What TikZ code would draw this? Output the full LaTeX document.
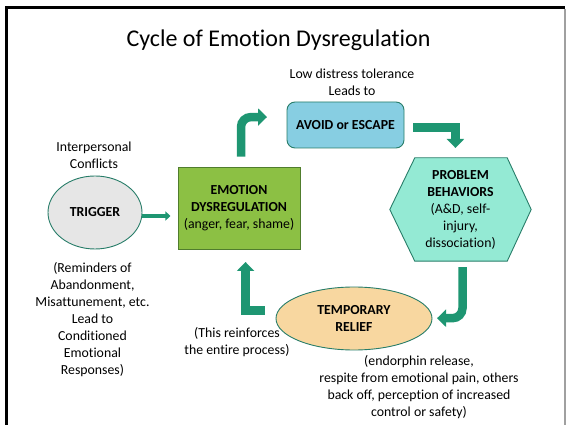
\documentclass[tikz,border=0pt]{standalone}
\usepackage{fontspec}
\setmainfont{Carlito}[RawFeature={-liga}]
\usetikzlibrary{arrows.meta,shapes.geometric,positioning}

\definecolor{arrowteal}{RGB}{30,150,114}
\definecolor{edgeteal}{RGB}{40,125,105}
\definecolor{avoidblue}{RGB}{135,206,226}
\definecolor{dysgreen}{RGB}{140,192,68}
\definecolor{dysedge}{RGB}{80,125,45}
\definecolor{hexaqua}{RGB}{148,234,212}
\definecolor{triggergray}{RGB}{230,230,230}
\definecolor{reliefwheat}{RGB}{248,215,160}
\definecolor{frameshadow}{RGB}{160,160,160}

\begin{document}
\begin{tikzpicture}[x=1pt,y=-1pt,
    every node/.style={font=\fontsize{13.8}{17}\selectfont,align=center},
    note/.style={inner sep=0pt},
    block arrow/.style={draw=arrowteal,line width=8.5pt,-{Triangle[width=17pt,length=9pt]}},
    small arrow/.style={draw=arrowteal,line width=3.5pt,-{Triangle[width=9pt,length=5pt]}},
    main node/.style={draw=edgeteal,line width=0.9pt,inner sep=0pt}]

    \useasboundingbox (0,0) rectangle (566,425);

    % slide frame
    \draw[line width=3.3pt] (6.2,425) -- (6.2,7.7) -- (565,7.7);
    \draw[frameshadow,line width=1.5pt] (565.2,9.3) -- (565.2,425);

    \node (title) at (278.5,40) {\fontsize{24}{29}\selectfont Cycle of Emotion Dysregulation};

    % the cycle
    \node[main node,fill=triggergray,ellipse,minimum width=94pt,minimum height=73pt] (trigger) at (95,212.5) {\textbf{TRIGGER}};
    \node[main node,draw=dysedge,fill=dysgreen,minimum width=122pt,minimum height=82pt] (dysreg) at (239,208)
        {\textbf{EMOTION}\\\textbf{DYSREGULATION}\\(anger, fear, shame)};
    \node[main node,fill=avoidblue,rounded corners=8pt,minimum width=117pt,minimum height=46pt] (avoid) at (345.5,125) {\textbf{AVOID or ESCAPE}};
    \node[inner sep=0pt,minimum width=141pt,minimum height=103pt] (behav) at (460.5,209.5) {};
    \draw[main node,fill=hexaqua] (behav.west) -- ([xshift=25pt]behav.north west) -- ([xshift=-24pt]behav.north east)
        -- (behav.east) -- ([xshift=-24pt]behav.south east) -- ([xshift=25pt]behav.south west) -- cycle;
    \node[note] (behavtext) at (behav.center) {\textbf{PROBLEM}\\\textbf{BEHAVIORS}\\(A\&D, self-\\injury,\\dissociation)};
    \node[main node,fill=reliefwheat,ellipse,minimum width=156pt,minimum height=63pt] (relief) at (354,318.5) {\textbf{TEMPORARY}\\\textbf{RELIEF}};

    % notes
    \node[note] (conflicts) at (94,155) {Interpersonal\\Conflicts};
    \node[note] (reminders) at (92.5,320) {(Reminders of\\Abandonment,\\Misattunement, etc.\\Lead to\\Conditioned\\Emotional\\Responses)};
    \node[note] (tolerance) at (352,82.5) {Low distress tolerance\\Leads to};
    \node[note] (reinforce) at (237,342.5) {(This reinforces\\the entire process)};
    \node[note] (reliefnote) at (419,387.5) {(endorphin release,\\respite from emotional pain, others\\back off, perception of increased\\control or safety)};

    % arrows
    \draw[small arrow] ([yshift=-3.5pt]trigger.east) -- ++(28,0);
    \draw[block arrow,rounded corners=10pt] ([xshift=2pt,yshift=10pt]dysreg.north) -- ++(0,-39.5) -- ++(26,0);
    \draw[block arrow] ([xshift=9pt,yshift=-2.5pt]avoid.east) -- ++(42,0) -- ++(0,20.5);
    \draw[block arrow,rounded corners=10pt] ([xshift=2pt,yshift=-6pt]behav.south) -- ++(0,51) -- ++(-25.5,0);
    \draw[block arrow] ([xshift=-11pt,yshift=8pt]relief.west) -- ++(-19,0) -- ++(0,-48.5);
\end{tikzpicture}
\end{document}
